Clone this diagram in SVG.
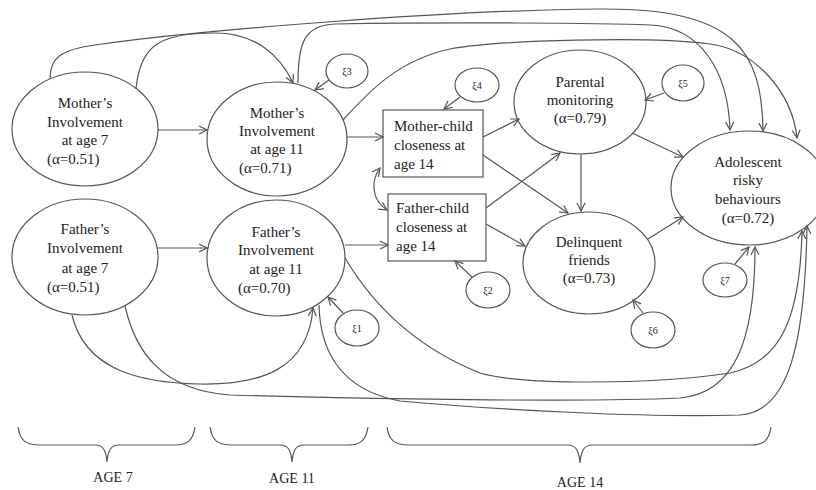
<svg xmlns="http://www.w3.org/2000/svg" width="816" height="490" viewBox="0 0 816 490">
<defs>
<marker id="ah" viewBox="0 0 10 10" refX="9" refY="5" markerWidth="10" markerHeight="10" markerUnits="userSpaceOnUse" orient="auto-start-reverse"><path d="M1,1 L9,5 L1,9" fill="none" stroke="#555" stroke-width="1.2"/></marker>
<style>
.nd{fill:#fff;stroke:#555;stroke-width:1.2}
.ln{fill:none;stroke:#555;stroke-width:1.2}
.ar{fill:none;stroke:#555;stroke-width:1.2;marker-end:url(#ah)}
.t{font-family:"Liberation Serif","Times New Roman",serif;font-size:15px;fill:#222}
.c{text-anchor:middle}
.s{font-family:"Liberation Serif","Times New Roman",serif;font-size:10px;fill:#222;text-anchor:middle}
.lb{font-family:"Liberation Serif","Times New Roman",serif;font-size:14px;fill:#222;text-anchor:middle}
</style>
</defs>
<rect width="816" height="490" fill="#fff"/>

<g id="m7"><ellipse class="nd" cx="85" cy="129" rx="73" ry="57"/>
<text class="t c" x="85" y="108">Mother’s</text><text class="t c" x="85" y="127">Involvement</text><text class="t c" x="85" y="145">at age 7</text><text class="t" x="47" y="164">(α=0.51)</text></g>

<g id="m11"><ellipse class="nd" cx="277" cy="139" rx="70" ry="57"/>
<text class="t c" x="277" y="118">Mother’s</text><text class="t c" x="277" y="136">Involvement</text><text class="t c" x="277" y="154">at age 11</text><text class="t" x="239" y="173">(α=0.71)</text></g>

<g id="f7"><ellipse class="nd" cx="85" cy="257" rx="73" ry="58"/>
<text class="t c" x="85" y="234">Father’s</text><text class="t c" x="85" y="253">Involvement</text><text class="t c" x="85" y="273">at age 7</text><text class="t" x="47" y="292">(α=0.51)</text></g>

<g id="f11"><ellipse class="nd" cx="276" cy="258" rx="69" ry="58"/>
<text class="t c" x="276" y="237">Father’s</text><text class="t c" x="276" y="255">Involvement</text><text class="t c" x="276" y="274">at age 11</text><text class="t" x="238" y="293">(α=0.70)</text></g>

<g id="mc"><rect class="nd" x="383" y="110" width="100" height="67"/>
<text class="t" x="394" y="131">Mother-child</text><text class="t" x="394" y="150">closeness at</text><text class="t" x="394" y="169">age 14</text></g>

<g id="fc"><rect class="nd" x="388" y="194" width="98" height="67"/>
<text class="t" x="396" y="213">Father-child</text><text class="t" x="396" y="232">closeness at</text><text class="t" x="396" y="251">age 14</text></g>

<g id="pm"><ellipse class="nd" cx="580" cy="102" rx="66" ry="52"/>
<text class="t c" x="580" y="87">Parental</text><text class="t c" x="580" y="105">monitoring</text><text class="t c" x="580" y="123">(α=0.79)</text></g>

<g id="df"><ellipse class="nd" cx="589" cy="263" rx="66" ry="51"/>
<text class="t c" x="589" y="247">Delinquent</text><text class="t c" x="589" y="265">friends</text><text class="t c" x="589" y="283">(α=0.73)</text></g>

<g id="ar"><ellipse class="nd" cx="749" cy="188" rx="78" ry="57"/>
<text class="t c" x="748" y="167">Adolescent</text><text class="t c" x="748" y="185">risky</text><text class="t c" x="748" y="204">behaviours</text><text class="t c" x="748" y="223">(α=0.72)</text></g>

<g id="e1"><ellipse class="nd" cx="357" cy="328" rx="22" ry="18"/><text class="s" x="357" y="332">ξ1</text></g>
<g id="e2"><ellipse class="nd" cx="488" cy="290" rx="22" ry="18"/><text class="s" x="488" y="294">ξ2</text></g>
<g id="e3"><ellipse class="nd" cx="347" cy="71" rx="21" ry="17"/><text class="s" x="347" y="75">ξ3</text></g>
<g id="e4"><ellipse class="nd" cx="477" cy="85" rx="22" ry="17"/><text class="s" x="477" y="89">ξ4</text></g>
<g id="e5"><ellipse class="nd" cx="683" cy="83" rx="21" ry="18"/><text class="s" x="683" y="87">ξ5</text></g>
<g id="e6"><ellipse class="nd" cx="653" cy="330" rx="22" ry="18"/><text class="s" x="653" y="334">ξ6</text></g>
<g id="e7"><ellipse class="nd" cx="725" cy="280" rx="22" ry="17"/><text class="s" x="725" y="284">ξ7</text></g>

<g id="connectors">
<path class="ar" d="M158,130 L207,130"/>
<path class="ar" d="M158,248 L207,248"/>
<path class="ar" d="M347,137 L383,137"/>
<path class="ar" d="M345,245 L388,245"/>
<path class="ar" d="M483,137 L519,119"/>
<path class="ar" d="M483,155 L568,213"/>
<path class="ar" d="M486,208 L560,153"/>
<path class="ar" d="M486,224 L525,246"/>
<path class="ar" d="M581,154 L581,211"/>
<path class="ar" d="M632,133 L683,157"/>
<path class="ar" d="M648,239 L683,217"/>
<path class="ar" d="M380,168 C371,180 371,200 387,210" marker-start="url(#ah)"/>
<path class="ar" d="M329,80 L315,90"/>
<path class="ar" d="M460,97 L444,109"/>
<path class="ar" d="M664,93 L645,100"/>
<path class="ar" d="M343,313 L328,297"/>
<path class="ar" d="M472,277 L455,261"/>
<path class="ar" d="M643,313 L633,300"/>
<path class="ar" d="M735,264 L749,247"/>
<path class="ar" d="M50,79 C50,58 60,50 95,45 C200,30 450,10 600,9 C735,8 762,50 763,131"/>
<path class="ar" d="M136,89 C140,45 160,33 215,33 C255,33 280,55 293,83"/>
<path class="ar" d="M298,83 C298,45 303,25 335,24 C450,22 600,23 650,25 C700,27 728,70 730,130"/>
<path class="ar" d="M343,120 C372,88 400,60 450,49 C500,40 650,36 710,44 C755,50 792,92 797,138"/>
<path class="ar" d="M72,315 C85,370 140,383 200,384 C260,385 308,370 313,308"/>
<path class="ar" d="M125,306 C135,350 160,390 230,395 C400,400 600,402 680,398 C735,393 755,340 755,247"/>
<path class="ar" d="M319,305 C320,350 340,390 400,401 C500,410 650,418 740,415 C790,412 805,340 807,226"/>
<path class="ar" d="M345,258 C370,300 410,345 480,373 C520,385 650,385 730,373 C780,362 800,320 802,231"/>
</g>

<g id="braces">
<path class="ln" d="M18,427 C20,440 25,445 40,445 L95,445 C103,445 106,450 107,462 C108,450 111,445 119,445 L175,445 C188,445 193,440 195,427"/>
<path class="ln" d="M210,427 C212,440 217,445 232,445 L280,445 C288,445 291,450 292,462 C293,450 296,445 304,445 L348,445 C361,445 366,440 368,427"/>
<path class="ln" d="M387,427 C389,440 394,445 409,445 L568,445 C576,445 579,451 580,463 C581,451 584,445 592,445 L751,445 C764,445 769,440 771,427"/>
<text class="lb" x="113" y="482">AGE 7</text>
<text class="lb" x="292" y="483">AGE 11</text>
<text class="lb" x="580" y="487">AGE 14</text>
</g>
</svg>
